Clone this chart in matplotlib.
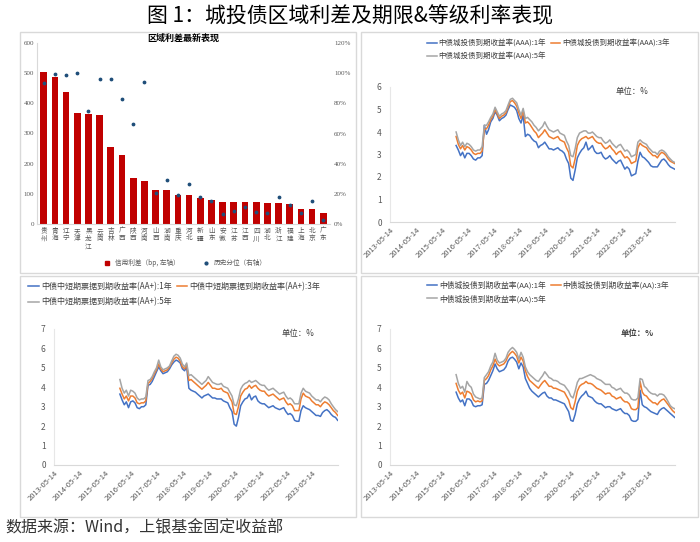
import matplotlib.pyplot as plt
import matplotlib.dates as mdates
from matplotlib.patches import Rectangle
from matplotlib.lines import Line2D
import pandas as pd

plt.rcParams['font.family'] = ['Noto Sans CJK SC', 'DejaVu Sans']

# ---- regional spread data ----
regions = ['贵州', '青海', '辽宁', '天津', '黑龙江', '云南', '吉林', '广西', '陕西', '河南',
           '山西', '湖南', '重庆', '河北', '新疆', '山东', '安徽', '江苏', '江西', '四川',
           '湖北', '浙江', '福建', '上海', '北京', '广东']
spread_bp = [505, 486, 436, 368, 365, 362, 256, 229, 151, 144,
             114, 113, 97, 96, 85, 81, 74, 74, 74, 72,
             71, 69, 65, 50, 49, 36]
pctile = [93.5, 99.5, 99, 100, 75, 96, 96, 83, 66, 94,
          20.5, 29.5, 19.5, 26.5, 18, 15, 6.5, 8.5, 11.5, 8,
          7, 18, 12.5, 7.5, 15, 2.5]

# ---- monthly yields, 2015-11 .. 2024-04 ----
months = pd.date_range('2015-11-30', periods=102, freq='ME')

aaa_1y = [3.40, 3.20,
          2.95, 3.10, 2.85, 3.05, 3.05, 2.95, 2.80, 2.75, 2.85, 2.85, 2.95, 4.30,
          3.90, 4.10, 4.45, 4.60, 4.90, 4.75, 4.50, 4.60, 4.65, 4.75, 5.00, 5.20,
          5.15, 5.10, 4.95, 4.60, 4.40, 4.75, 3.80, 3.90, 3.85, 3.70, 3.60, 3.55,
          3.30, 3.40, 3.45, 3.55, 3.40, 3.25, 3.25, 3.20, 3.25, 3.30, 3.20, 3.15,
          3.05, 2.80, 2.60, 1.95, 1.85, 2.30, 2.85, 3.05, 3.20, 3.30, 3.55, 3.20,
          3.30, 3.40, 3.15, 3.05, 3.05, 3.10, 2.90, 2.80, 2.85, 2.95, 2.80, 2.70,
          2.60, 2.70, 2.75, 2.55, 2.35, 2.45, 2.35, 2.05, 2.10, 2.15, 2.70, 3.10,
          2.90, 2.85, 2.75, 2.65, 2.50, 2.45, 2.45, 2.45, 2.60, 2.75, 2.80, 2.70,
          2.55, 2.45, 2.40, 2.35]
aaa_3y = [3.80, 3.45,
          3.25, 3.40, 3.20, 3.35, 3.30, 3.20, 3.05, 3.00, 3.05, 3.05, 3.15, 4.10,
          4.15, 4.30, 4.55, 4.70, 5.00, 4.80, 4.60, 4.70, 4.75, 4.85, 5.10, 5.35,
          5.40, 5.30, 5.15, 4.85, 4.60, 4.95, 4.40, 4.45, 4.35, 4.20, 4.05, 3.95,
          3.75, 3.85, 3.95, 4.10, 3.95, 3.80, 3.75, 3.70, 3.75, 3.80, 3.65, 3.60,
          3.55, 3.30, 3.10, 2.50, 2.40, 2.80, 3.40, 3.60, 3.70, 3.75, 3.80, 3.70,
          3.75, 3.80, 3.65, 3.55, 3.50, 3.50, 3.35, 3.25, 3.30, 3.40, 3.25, 3.15,
          3.00, 3.10, 3.15, 3.00, 2.85, 2.90, 2.80, 2.60, 2.65, 2.70, 3.30, 3.50,
          3.40, 3.35, 3.30, 3.15, 3.05, 2.95, 2.95, 2.85, 3.00, 3.10, 3.05, 2.95,
          2.80, 2.70, 2.65, 2.60]
aaa_5y = [4.00, 3.65,
          3.40, 3.55, 3.35, 3.50, 3.45, 3.35, 3.20, 3.15, 3.20, 3.20, 3.35, 4.30,
          4.30, 4.45, 4.65, 4.80, 5.10, 4.90, 4.70, 4.80, 4.85, 4.95, 5.20, 5.45,
          5.50, 5.40, 5.30, 5.00, 4.75, 5.05, 4.60, 4.65, 4.55, 4.45, 4.30, 4.20,
          4.05, 4.15, 4.25, 4.45, 4.25, 4.10, 4.05, 4.00, 4.05, 4.10, 3.95, 3.90,
          3.85, 3.60, 3.40, 2.95, 2.90, 3.25, 3.75, 3.95, 4.00, 4.05, 4.05, 3.95,
          3.95, 4.00, 3.90, 3.80, 3.75, 3.75, 3.60, 3.50, 3.55, 3.65, 3.50, 3.40,
          3.30, 3.40, 3.45, 3.30, 3.15, 3.20, 3.10, 2.90, 2.95, 3.00, 3.55, 3.65,
          3.55, 3.50, 3.45, 3.30, 3.20, 3.10, 3.10, 3.00, 3.15, 3.20, 3.15, 3.05,
          2.90, 2.80, 2.70, 2.65]

aap_1y = [3.65, 3.35,
          3.10, 3.25, 2.95, 3.25, 3.30, 3.20, 2.95, 2.90, 3.00, 3.00, 3.10, 4.10,
          4.15, 4.30, 4.55, 4.80, 5.05, 4.85, 4.70, 4.75, 4.80, 4.95, 5.15, 5.30,
          5.40, 5.35, 5.25, 4.95, 4.85, 5.05, 3.95, 3.85, 3.80, 3.75, 3.65, 3.55,
          3.45, 3.55, 3.60, 3.65, 3.55, 3.45, 3.45, 3.40, 3.40, 3.40, 3.30, 3.25,
          3.20, 2.95, 2.75, 2.10, 2.00, 2.45, 3.05, 3.25, 3.40, 3.45, 3.65, 3.35,
          3.50, 3.55, 3.30, 3.20, 3.15, 3.15, 3.05, 2.95, 3.00, 3.05, 2.95, 2.90,
          2.85, 2.90, 2.95, 2.75, 2.60, 2.65, 2.55, 2.30, 2.25, 2.25, 2.80, 3.05,
          2.95, 2.90, 2.85, 2.75, 2.65, 2.55, 2.55, 2.50, 2.70, 2.80, 2.85, 2.75,
          2.60, 2.50, 2.45, 2.30]
aap_3y = [3.95, 3.65,
          3.40, 3.55, 3.30, 3.55, 3.55, 3.45, 3.20, 3.15, 3.20, 3.20, 3.30, 4.20,
          4.30, 4.45, 4.70, 4.90, 5.20, 4.95, 4.80, 4.85, 4.90, 5.05, 5.25, 5.45,
          5.55, 5.50, 5.35, 5.05, 4.95, 5.15, 4.35, 4.40, 4.30, 4.20, 4.10, 4.00,
          3.90, 4.00, 4.10, 4.25, 4.10, 3.95, 3.95, 3.90, 3.90, 3.95, 3.80, 3.75,
          3.70, 3.45, 3.25, 2.65, 2.60, 3.00, 3.55, 3.75, 3.90, 3.95, 4.10, 3.95,
          4.05, 4.10, 3.95, 3.85, 3.80, 3.80, 3.65, 3.55, 3.60, 3.65, 3.55, 3.45,
          3.35, 3.40, 3.45, 3.25, 3.10, 3.15, 3.05, 2.80, 2.80, 2.80, 3.40, 3.70,
          3.55, 3.50, 3.45, 3.30, 3.20, 3.10, 3.10, 3.00, 3.15, 3.25, 3.20, 3.10,
          2.95, 2.80, 2.70, 2.55]
aap_5y = [4.40, 3.95,
          3.70, 3.85, 3.55, 3.85, 3.80, 3.70, 3.45, 3.35, 3.40, 3.40, 3.50, 4.35,
          4.40, 4.55, 4.80, 5.00, 5.40, 5.05, 4.90, 4.95, 5.00, 5.10, 5.35, 5.60,
          5.70, 5.65, 5.50, 5.20, 5.05, 5.25, 4.60, 4.65, 4.55, 4.45, 4.35, 4.25,
          4.15, 4.25, 4.35, 4.55, 4.40, 4.25, 4.20, 4.15, 4.15, 4.20, 4.05, 4.00,
          3.95, 3.75, 3.55, 3.10, 3.05, 3.40, 3.90, 4.10, 4.20, 4.25, 4.35, 4.25,
          4.30, 4.35, 4.25, 4.15, 4.10, 4.10, 3.95, 3.85, 3.90, 3.95, 3.85, 3.75,
          3.65, 3.70, 3.75, 3.55, 3.40, 3.45, 3.35, 3.15, 3.15, 3.15, 3.70, 3.95,
          3.80, 3.75, 3.70, 3.55, 3.45, 3.35, 3.35, 3.25, 3.40, 3.50, 3.45, 3.35,
          3.15, 3.00, 2.85, 2.75]

aa_1y = [3.75, 3.45,
         3.25, 3.35, 3.05, 3.40, 3.40, 3.30, 3.05, 3.00, 3.05, 3.05, 3.10, 4.15,
         4.20, 4.35, 4.60, 4.85, 5.20, 4.95, 4.80, 4.85, 4.90, 5.05, 5.35, 5.50,
         5.55, 5.45, 5.30, 4.95, 5.25, 5.05, 4.45, 4.20, 3.95, 3.80, 3.70, 3.60,
         3.50, 3.60, 3.70, 3.75, 3.55, 3.45, 3.45, 3.35, 3.35, 3.30, 3.25, 3.20,
         3.15, 2.95, 2.75, 2.30, 2.25, 2.60, 3.15, 3.40, 3.55, 3.65, 3.80, 3.55,
         3.50, 3.45, 3.30, 3.20, 3.15, 3.15, 3.05, 2.95, 3.00, 3.00, 2.90, 2.85,
         2.80, 2.85, 2.90, 2.75, 2.65, 2.65, 2.55, 2.30, 2.25, 2.25, 2.35, 3.85,
         3.10, 3.00, 2.95, 2.85, 2.75, 2.70, 2.65, 2.60, 2.80, 2.90, 2.95, 2.85,
         2.75, 2.65, 2.55, 2.45]
aa_3y = [4.20, 3.85,
         3.65, 3.75, 3.45, 3.80, 3.75, 3.65, 3.35, 3.25, 3.30, 3.25, 3.30, 4.35,
         4.45, 4.60, 4.90, 5.10, 5.45, 5.20, 5.10, 5.15, 5.20, 5.35, 5.60, 5.75,
         5.85, 5.75, 5.60, 5.25, 5.55, 5.35, 4.85, 4.55, 4.35, 4.25, 4.15, 4.05,
         3.95, 4.10, 4.25, 4.35, 4.20, 4.05, 4.05, 3.95, 3.95, 3.90, 3.85, 3.80,
         3.75, 3.55, 3.35, 2.95, 2.85, 3.25, 3.80, 4.05, 4.15, 4.20, 4.30, 4.20,
         4.20, 4.15, 4.05, 3.95, 3.90, 3.85, 3.75, 3.65, 3.70, 3.70, 3.55, 3.50,
         3.40, 3.45, 3.50, 3.35, 3.25, 3.25, 3.15, 2.90, 2.85, 2.85, 2.95, 4.30,
         3.75, 3.60, 3.55, 3.40, 3.30, 3.20, 3.20, 3.10, 3.25, 3.35, 3.40, 3.25,
         3.10, 2.95, 2.80, 2.70]
aa_5y = [4.65, 4.20,
         3.95, 4.05, 3.75, 4.30, 4.10, 4.00, 3.65, 3.50, 3.45, 3.40, 3.45, 4.50,
         4.65, 4.80, 5.10, 5.30, 5.75, 5.40, 5.25, 5.30, 5.35, 5.50, 5.80, 5.95,
         6.05, 5.95, 5.80, 5.45, 5.80, 5.55, 5.05, 4.80, 4.65, 4.55, 4.45, 4.35,
         4.30, 4.45, 4.60, 4.80, 4.65, 4.50, 4.45, 4.35, 4.35, 4.30, 4.20, 4.15,
         4.10, 3.95, 3.80, 3.55, 3.45, 3.80, 4.25, 4.45, 4.45, 4.50, 4.55, 4.60,
         4.65, 4.60, 4.55, 4.45, 4.40, 4.35, 4.25, 4.15, 4.15, 4.15, 4.00, 3.95,
         3.85, 3.90, 3.95, 3.80, 3.70, 3.70, 3.60, 3.40, 3.35, 3.35, 3.45, 4.45,
         4.40, 4.05, 3.95, 3.80, 3.70, 3.65, 3.65, 3.55, 3.65, 3.65, 3.60, 3.45,
         3.25, 3.05, 2.95, 2.90]

tick_dates = pd.to_datetime([f'{y}-05-14' for y in range(2013, 2024)])

BLUE, ORANGE, GREY = '#4472C4', '#ED7D31', '#A5A5A5'
W, H = 700, 542


def fig_rect(x, y, w, h):
    # pixel box (top-left origin) -> figure fraction
    return [x / W, 1 - (y + h) / H, w / W, h / H]


fig = plt.figure(figsize=(7, 5.42), dpi=100)

fig.text(0.5, 1 - 16 / H, '图 1：城投债区域利差及期限&等级利率表现', ha='center', va='center', fontsize=15)
fig.text(5 / W, 1 - 528 / H, '数据来源：Wind，上银基金固定收益部', ha='left', va='center', fontsize=11.5,
         color='#333333')

# panel frames
for bx, by, bw, bh in [(20, 32, 336, 241), (361, 32, 337, 241), (20, 276, 336, 241), (361, 276, 337, 241)]:
    fig.patches.append(Rectangle((bx / W, 1 - (by + bh) / H), bw / W, bh / H, transform=fig.transFigure,
                                 fill=False, edgecolor='#D9D9D9', linewidth=1))

# ---- bar chart ----
ax = fig.add_axes(fig_rect(37, 43, 293, 181))
x = range(len(regions))
ax.bar(x, spread_bp, width=0.6, color='#C00000')
ax.set_ylim(0, 600)
ax.set_yticks(range(0, 601, 100))
ax.set_xlim(-0.6, len(regions) - 0.4)
ax.set_xticks(list(x))
ax.set_xticklabels(['\n'.join(r) for r in regions], fontsize=4.8, color='#595959', linespacing=0.95)
ax.tick_params(length=0, pad=2)
for lab in ax.get_yticklabels():
    lab.set_fontsize(5)
    lab.set_color('#595959')
    lab.set_family('Liberation Serif')
for s in ['top', 'right']:
    ax.spines[s].set_visible(False)
ax.spines['left'].set_color('#D9D9D9')
ax.spines['bottom'].set_color('#D9D9D9')
ax.set_title('区域利差最新表现', fontsize=6.5, fontweight='bold', pad=-5)

ax2 = ax.twinx()
ax2.scatter(x, pctile, s=3, color='#1F4E79', zorder=3)
ax2.set_ylim(0, 120)
ax2.set_yticks(range(0, 121, 20))
ax2.set_yticklabels([f'{v}%' for v in range(0, 121, 20)], fontsize=5, color='#595959', family='Liberation Serif')
ax2.tick_params(length=0, pad=3)
for s in ['top', 'right', 'left', 'bottom']:
    ax2.spines[s].set_visible(False)

bar_handles = [Line2D([], [], marker='s', linestyle='', color='#C00000', markersize=2.5),
               Line2D([], [], marker='o', linestyle='', color='#1F4E79', markersize=2)]
ax.legend(bar_handles, ['信用利差（bp, 左轴）', '历史分位（右轴）'], loc='center', ncol=2,
          bbox_to_anchor=(0.5, -0.215), frameon=False, fontsize=4.8, handletextpad=0.1, columnspacing=3,
          labelcolor='#595959')


def line_panel(rect, s1, s3, s5, names, ymax, legend_x, legend_y, unit_xy, leg_fs, leg_gap,
               unit_bold=False):
    a = fig.add_axes(fig_rect(*rect))
    l1, = a.plot(months, s1, color=BLUE, lw=1.1)
    l3, = a.plot(months, s3, color=ORANGE, lw=1.1)
    l5, = a.plot(months, s5, color=GREY, lw=1.1)
    a.set_xlim(pd.Timestamp('2013-05-14'), pd.Timestamp('2024-05-05'))
    a.set_ylim(0, ymax)
    a.set_yticks(range(0, ymax + 1))
    a.set_xticks(tick_dates)
    a.xaxis.set_major_formatter(mdates.DateFormatter('%Y-%m-%d'))
    for lab in a.get_xticklabels():
        lab.set_rotation(45)
        lab.set_ha('right')
        lab.set_rotation_mode('anchor')
    a.tick_params(axis='x', labelsize=5.5, length=0, pad=3, labelcolor='#595959')
    a.tick_params(axis='y', labelsize=6, length=0, pad=6, labelcolor='#595959')
    for s in ['top', 'right']:
        a.spines[s].set_visible(False)
    a.spines['left'].set_color('#E7E7E7')
    a.spines['bottom'].set_color('#D9D9D9')
    a.legend([l1, l5, l3], [names[0], names[2], names[1]], ncol=2, loc='upper left',
             bbox_to_anchor=(legend_x, legend_y), frameon=False, fontsize=leg_fs, handlelength=1.3,
             handletextpad=0.25, columnspacing=0.6, labelspacing=leg_gap, borderaxespad=0, borderpad=0,
             labelcolor='#404040')
    a.text(unit_xy[0], unit_xy[1], '单位：%', transform=a.transAxes, fontsize=6, ha='left', va='center',
           color='#404040', fontweight='bold' if unit_bold else 'normal')
    return a


line_panel((390, 87, 285, 135), aaa_1y, aaa_3y, aaa_5y,
           ['中债城投债到期收益率(AAA):1年', '中债城投债到期收益率(AAA):3年', '中债城投债到期收益率(AAA):5年'],
           6, 0.13, 1.35, (0.79, 0.97), 5.4, 0.6)
line_panel((54, 329, 284, 136), aap_1y, aap_3y, aap_5y,
           ['中债中短期票据到期收益率(AA+):1年', '中债中短期票据到期收益率(AA+):3年',
            '中债中短期票据到期收益率(AA+):5年'],
           7, -0.09, 1.345, (0.80, 0.97), 5.8, 0.75)
line_panel((390, 329, 285, 136), aa_1y, aa_3y, aa_5y,
           ['中债城投债到期收益率(AA):1年', '中债城投债到期收益率(AA):3年', '中债城投债到期收益率(AA):5年'],
           7, 0.13, 1.355, (0.81, 0.97), 5.6, 0.7, unit_bold=True)

fig.savefig('out.png', dpi=100)
